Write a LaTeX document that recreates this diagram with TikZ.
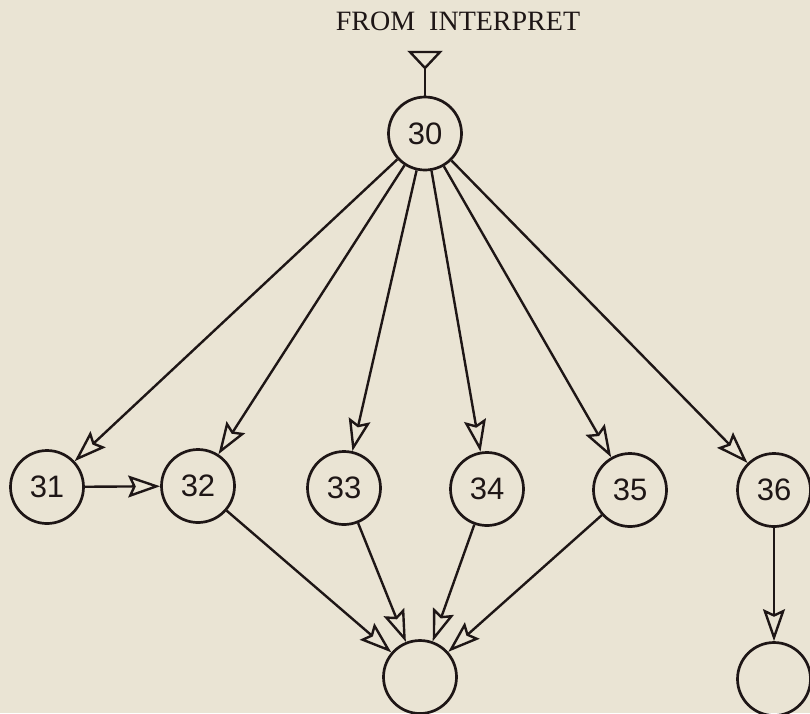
\documentclass[tikz,border=0pt]{standalone}
\usepackage{fontspec}
\setmainfont{Liberation Serif}
\newfontfamily\digitfont{Liberation Sans}
\usetikzlibrary{arrows.meta}

\definecolor{paper}{RGB}{234,228,212}
\definecolor{ink}{RGB}{30,22,22}

\tikzset{
  stage/.style={circle, draw=ink, line width=2.7pt, minimum size=73pt,
    inner sep=0pt, font=\digitfont\fontsize{31}{31}\selectfont, text=ink},
  flow/.style={draw=ink, line width=2.4pt,
    -{Stealth[open, length=32pt, width=22pt, inset=5pt]}},
  plain/.style={draw=ink, line width=2.4pt},
}

\begin{document}
\begin{tikzpicture}[x=1pt, y=-1pt]
  % page background and extent
  \fill[paper] (0,0) rectangle (810,713);
  \useasboundingbox (0,0) rectangle (810,713);

  % heading
  \node[text=ink, font=\fontsize{28}{28}\selectfont, inner sep=0pt]
    (title) at (458,21) {FROM\ \ INTERPRET};

  % stages
  \node[stage] (n30) at (425,133.5) {30};
  \node[stage] (n31) at (47,487) {31};
  \node[stage] (n32) at (198,486) {32};
  \node[stage] (n33) at (344,488) {33};
  \node[stage] (n34) at (487,489) {34};
  \node[stage] (n35) at (630,490) {35};
  \node[stage] (n36) at (774,490) {36};
  \node[stage] (m1)  at (420,677) {};
  \node[stage] (m2)  at (774,679) {};

  % entry connector marker
  \coordinate (entry) at (425,68);
  \draw[plain, line join=miter] (entry) -- ++(-15,-16) -- ++(30,0) -- cycle;
  \draw[plain] (entry) -- (n30);

  % branches out of 30
  \foreach \t in {n31,n32,n33,n34,n35,n36}
    \draw[flow] (n30) -- (\t);

  \draw[flow] (n31) -- (n32);

  % merges
  \foreach \s in {n32,n33,n34,n35}
    \draw[flow] (\s) -- (m1);
  \draw[flow] (n36) -- (m2);
\end{tikzpicture}
\end{document}
